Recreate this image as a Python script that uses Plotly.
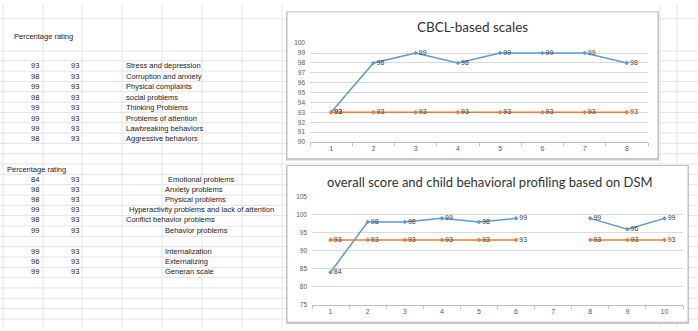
import plotly.graph_objects as go

# ---------------- data ----------------
cbcl_categories = ["1", "2", "3", "4", "5", "6", "7", "8"]
cbcl_scores = [93, 98, 99, 98, 99, 99, 99, 98]
cbcl_reference = [93, 93, 93, 93, 93, 93, 93, 93]
cbcl_labels = ["Stress and depression", "Corruption and anxiety", "Physical complaints",
               "social problems", "Thinking Problems", "Problems of attention",
               "Lawbreaking behaviors", "Aggressive behaviors"]

dsm_categories = ["1", "2", "3", "4", "5", "6", "7", "8", "9", "10"]
dsm_scores = [84, 98, 98, 99, 98, 99, None, 99, 96, 99]
dsm_reference = [93, 93, 93, 93, 93, 93, None, 93, 93, 93]
dsm_labels = ["Emotional problems", "Anxiety problems", "Physical problems",
              "Hyperactivity problems and lack of attention", "Conflict behavior problems",
              "Behavior problems", "", "Internalization", "Externalizing", "Generan scale"]

W, H = 698, 331
BLUE = "#5B9BD5"
ORANGE = "#ED7D31"


def px(x):
    return x / W


def py(y):
    return 1 - y / H


fig = go.Figure()

# ---------------- spreadsheet background ----------------
shapes = []
grid_col = "#e4e4e4"
for xv in [3, 43, 82, 122, 162, 202, 242, 282, 660, 677]:
    shapes.append(dict(type="line", xref="paper", yref="paper", x0=px(xv), x1=px(xv),
                       y0=0, y1=1, line=dict(color=grid_col, width=1), layer="below"))
hlines = [15, 48] + [58 + 10.55 * k for k in range(27)]
for yv in hlines:
    if yv > H:
        continue
    shapes.append(dict(type="line", xref="paper", yref="paper", x0=0, x1=1,
                       y0=py(yv), y1=py(yv), line=dict(color=grid_col, width=1), layer="below"))

# chart boxes (shadow + white box)
for (x0, y0, x1, y1) in [(287, 8, 658, 158), (287, 165, 688, 325)]:
    shapes.append(dict(type="rect", xref="paper", yref="paper", x0=px(x0 - 1), x1=px(x1 + 1),
                       y0=py(y1 + 2), y1=py(y0), fillcolor="#c8c8c8",
                       line=dict(width=0), layer="below"))
    shapes.append(dict(type="rect", xref="paper", yref="paper", x0=px(x0), x1=px(x1),
                       y0=py(y1), y1=py(y0), fillcolor="white",
                       line=dict(color="#bfbfbf", width=1), layer="below"))

# ---------------- spreadsheet text ----------------
annotations = []
cell_font = dict(family="Liberation Sans, Arial, sans-serif", size=7.5, color="#222222")


def cell(text, x, y, anchor="left"):
    annotations.append(dict(text=text, xref="paper", yref="paper", x=px(x), y=py(y),
                            xanchor=anchor, yanchor="middle", showarrow=False, font=cell_font))


cell("Percentage rating", 12, 33)
rows1 = [63, 74, 84.5, 95.5, 106, 116.5, 127, 137.5]
for i, lab in enumerate(cbcl_labels):
    cell(str(cbcl_scores[i]), 41, rows1[i], "right")
    cell(str(cbcl_reference[i]), 81, rows1[i], "right")
    cell(lab, 124, rows1[i])

cell("Percentage rating", 5, 169)
rows2 = [179, 189, 199.5, 210, 220.5, 231, 242, 252.5, 263, 273.5]
label_x2 = [166, 163, 163, 127, 124, 163, 163, 163, 163, 163]
for i, lab in enumerate(dsm_labels):
    if dsm_scores[i] is None:
        continue
    cell(str(dsm_scores[i]), 41, rows2[i], "right")
    cell(str(dsm_reference[i]), 81, rows2[i], "right")
    cell(lab, label_x2[i], rows2[i])

# chart titles
title_font = dict(family="Lato, Carlito, sans-serif", color="#333333")
annotations.append(dict(text="CBCL-based scales", xref="paper", yref="paper",
                        x=px(472), y=py(24), xanchor="center", yanchor="middle",
                        showarrow=False, font=dict(size=13.5, **title_font)))
annotations.append(dict(text="overall score and child behavioral profiling based on DSM",
                        xref="paper", yref="paper", x=px(490), y=py(182),
                        xanchor="center", yanchor="middle", showarrow=False,
                        font=dict(size=13, **title_font)))

# ---------------- traces ----------------
lbl_font = dict(family="Liberation Sans, Arial, sans-serif", size=7, color="#404040")


def series(x, y, color, xa, ya):
    return go.Scatter(x=x, y=y, mode="lines+markers+text",
                      text=[("" if v is None else str(v)) for v in y],
                      textposition="middle right", textfont=lbl_font,
                      line=dict(color=color, width=1.5),
                      marker=dict(color=color, size=3.5, symbol="diamond"),
                      connectgaps=False, cliponaxis=False, showlegend=False,
                      xaxis=xa, yaxis=ya, hoverinfo="x+y")


fig.add_trace(series(cbcl_categories, cbcl_scores, BLUE, "x", "y"))
fig.add_trace(series(cbcl_categories, cbcl_reference, ORANGE, "x", "y"))
fig.add_trace(series(dsm_categories, dsm_scores, BLUE, "x2", "y2"))
fig.add_trace(series(dsm_categories, dsm_reference, ORANGE, "x2", "y2"))

tick_font = dict(family="Liberation Sans, Arial, sans-serif", size=6.5, color="#595959")

fig.update_layout(
    width=W, height=H, autosize=False,
    margin=dict(l=0, r=0, t=0, b=0),
    paper_bgcolor="white", plot_bgcolor="rgba(0,0,0,0)",
    shapes=shapes, annotations=annotations,
    xaxis=dict(domain=[px(310), px(648)], anchor="y", type="category",
               categoryorder="array", categoryarray=cbcl_categories,
               range=[-0.5, len(cbcl_categories) - 0.5],
               showgrid=False, showline=True, linecolor="#bfbfbf", linewidth=1,
               ticks="outside", tickson="boundaries", ticklen=3, tickcolor="#bfbfbf",
               tickfont=dict(size=7, family=tick_font["family"], color="#595959"),
               zeroline=False, fixedrange=True),
    yaxis=dict(domain=[py(141), py(40)], anchor="x", range=[90, 100], dtick=1,
               showgrid=True, gridcolor="#d9d9d9", gridwidth=1, zeroline=False,
               showline=False, tickfont=tick_font, ticklabelstandoff=4, fixedrange=True),
    xaxis2=dict(domain=[px(312), px(683)], anchor="y2", type="category",
                categoryorder="array", categoryarray=dsm_categories,
                range=[-0.5, len(dsm_categories) - 0.5],
                showgrid=False, showline=True, linecolor="#bfbfbf", linewidth=1,
                ticks="outside", tickson="boundaries", ticklen=3, tickcolor="#bfbfbf",
                tickfont=dict(size=7, family=tick_font["family"], color="#595959"),
                zeroline=False, fixedrange=True),
    yaxis2=dict(domain=[py(307), py(197)], anchor="x2", range=[75, 105], dtick=5,
                showgrid=True, gridcolor="#d9d9d9", gridwidth=1, zeroline=False,
                showline=False, tickfont=tick_font, ticklabelstandoff=4, fixedrange=True),
)

fig.write_html("out.html",
               config={"displayModeBar": False},
               post_script="document.body.style.margin='0';document.body.style.padding='0';"
                           "document.body.style.overflow='hidden';")
